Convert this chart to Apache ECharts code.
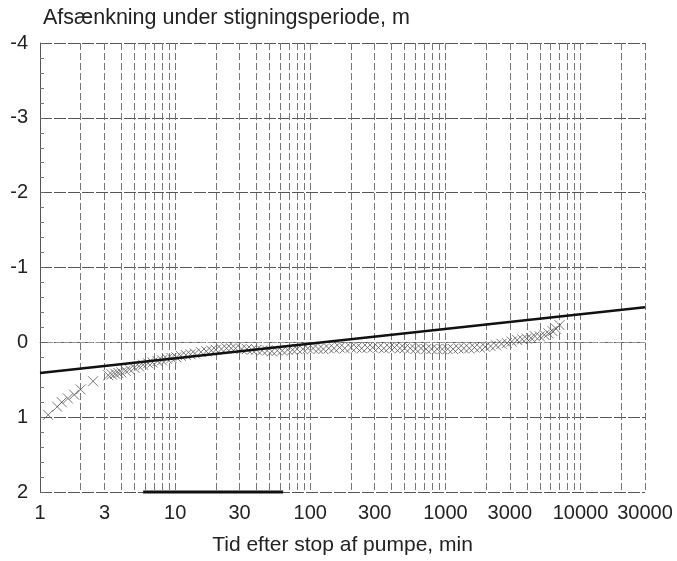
<!DOCTYPE html>
<html>
<head>
<meta charset="utf-8">
<script src="https://cdn.jsdelivr.net/npm/echarts@6/dist/echarts.min.js"></script>
<style>html,body{margin:0;padding:0;background:#fff;}#c{width:677px;height:561px;}</style>
</head>
<body>
<div id="c"></div>
<script>
// Tid efter stop af pumpe (min) and afsænkning (m)
const times = [1.15,1.34,1.45,1.61,1.79,2.0,2.47,3.2,3.4,3.6,3.8,4.0,4.3,4.6,5.0,5.4,5.8,6.3,6.8,7.4,8,8.7,9.4,10.2,11,12,13,14,15.5,17,18.5,20,22,24,26,28,31,34,37,40,44,48,52,57,62,68,74,80,88,96,105,115,125,137,150,165,180,200,220,240,265,290,320,350,385,420,460,500,550,600,660,720,790,870,950,1040,1140,1250,1370,1500,1640,1800,1970,2160,2370,2600,2850,3100,3400,3700,4000,4300,4600,5000,5400,5800,6200,6600,7000];
const drawdown = [0.97,0.86,0.80,0.75,0.70,0.63,0.52,0.44,0.43,0.42,0.41,0.40,0.38,0.36,0.34,0.32,0.30,0.28,0.27,0.25,0.24,0.22,0.21,0.20,0.18,0.17,0.16,0.15,0.13,0.12,0.11,0.10,0.09,0.08,0.08,0.08,0.09,0.09,0.10,0.10,0.11,0.11,0.12,0.11,0.11,0.10,0.10,0.09,0.09,0.08,0.08,0.09,0.09,0.08,0.08,0.07,0.08,0.07,0.07,0.08,0.07,0.07,0.07,0.08,0.07,0.07,0.08,0.08,0.08,0.09,0.08,0.09,0.09,0.09,0.09,0.09,0.09,0.08,0.08,0.08,0.07,0.07,0.06,0.05,0.04,0.02,0.01,-0.01,-0.03,-0.04,-0.05,-0.06,-0.08,-0.08,-0.10,-0.12,-0.15,-0.18,-0.23];
const fitLine = [[1, 0.41], [30000, -0.47]];
const bottomBar = [[5.8, 2], [63, 2]];
const xLabels = [1,3,10,30,100,300,1000,3000,10000,30000];
const xGrid = [1,2,3,4,5,6,7,8,9,10,20,30,40,50,60,70,80,90,100,200,300,400,500,600,700,800,900,1000,2000,3000,4000,5000,6000,7000,8000,9000,10000,20000,30000];

const scatterData = times.map((t, i) => [t, drawdown[i]]);
const font = 'Liberation Sans';
const chart = echarts.init(document.getElementById('c'));
chart.setOption({
  animation: false,
  backgroundColor: '#fff',
  title: {
    text: 'Afsænkning under stigningsperiode, m',
    left: 38, top: 2,
    textStyle: { fontFamily: font, fontSize: 21.5, fontWeight: 'normal', color: '#222' }
  },
  grid: { left: 40, right: 32, top: 43, bottom: 63 },
  xAxis: {
    type: 'log', logBase: 10, min: 1, max: 30000,
    name: 'Tid efter stop af pumpe, min',
    nameLocation: 'middle', nameGap: 43,
    nameTextStyle: { fontFamily: font, fontSize: 21, color: '#222' },
    axisLine: { show: true, lineStyle: { color: '#999', type: [5, 3] } },
    axisTick: { show: false, customValues: xGrid },
    axisLabel: { customValues: xLabels, formatter: v => String(v), fontFamily: font, fontSize: 20, color: '#222', margin: 11 },
    splitLine: { show: true, lineStyle: { color: '#777', width: 1, type: [7, 3] } },
    minorTick: { show: false }, minorSplitLine: { show: false }
  },
  yAxis: {
    type: 'value', inverse: true, min: -4, max: 2, interval: 1,
    axisLine: { show: true, lineStyle: { color: '#555' } },
    axisTick: { show: true, inside: true, length: 5, lineStyle: { color: '#666' } },
    minorTick: { show: true, splitNumber: 5, length: 4, lineStyle: { color: '#777' } },
    axisLabel: { fontFamily: font, fontSize: 20, color: '#222', margin: 12 },
    splitLine: { show: true, lineStyle: { color: '#555', width: 1, type: [12, 2] } }
  },
  series: [
    {
      type: 'scatter',
      data: scatterData,
      symbol: 'path://M0,0L10,10M0,10L10,0',
      symbolSize: 10,
      itemStyle: { color: 'none', borderColor: '#555', borderWidth: 1 }
    },
    {
      type: 'line', data: fitLine, symbol: 'none',
      lineStyle: { color: '#111', width: 2.5 }
    },
    {
      type: 'line', data: bottomBar, symbol: 'none', clip: false,
      lineStyle: { color: '#111', width: 3 }
    }
  ]
});
</script>
</body>
</html>
